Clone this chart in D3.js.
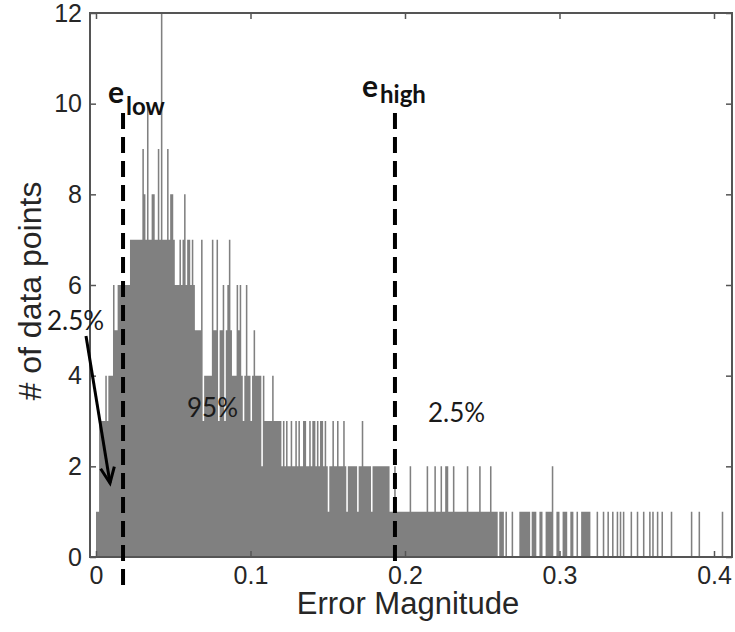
<!DOCTYPE html>
<html>
<head>
<meta charset="utf-8">
<script src="https://cdn.jsdelivr.net/npm/d3@7"></script>
<style>
  html, body { margin: 0; padding: 0; background: #fff; }
  svg { display: block; }
</style>
</head>
<body>
<div id="chart"></div>
<script>
// ---------------- DATA ----------------
// Histogram of error magnitudes: bin width 0.001, first bin starts at 0
const binWidth = 0.001;
const binCounts = [
  1,1,3,3,3,3,4,3,4,4,4,6,5,5,6,6,6,6,6,6,
  6,6,7,7,7,7,7,7,7,7,9,8,7,10,7,7,8,8,7,7,
  9,7,12,7,7,7,9,7,8,8,7,6,6,6,7,6,7,8,6,7,
  7,6,7,6,5,5,5,5,7,3,4,4,4,4,4,7,5,5,7,3,
  5,5,6,3,5,6,7,5,4,4,4,6,5,6,4,3,4,6,4,4,
  3,4,5,4,4,4,4,2,4,3,3,3,3,3,4,3,3,3,3,3,
  2,3,2,3,2,2,3,2,2,3,2,3,2,2,3,3,2,2,3,2,
  3,3,2,3,2,3,3,2,3,2,1,2,2,3,2,2,3,2,2,2,
  3,2,1,2,2,2,2,2,2,1,2,2,3,2,2,2,2,2,1,2,
  2,2,2,2,2,2,2,2,2,2,1,1,1,2,1,1,1,1,1,1,
  1,1,1,2,1,1,1,1,1,1,1,1,1,1,2,1,1,1,1,2,
  1,1,1,2,1,1,2,2,1,1,1,2,1,1,1,1,1,1,1,1,
  2,1,1,1,1,1,1,1,2,1,1,1,1,1,1,2,1,1,1,1,
  0,1,1,1,0,1,0,0,0,1,0,0,0,0,1,1,1,1,1,1,
  1,0,1,1,1,0,0,1,1,0,0,1,1,1,1,2,0,0,1,1,
  0,0,1,1,1,0,0,1,1,0,0,1,0,0,1,1,1,1,1,1,
  0,0,0,0,1,0,0,0,1,0,0,1,0,0,1,0,0,1,0,1,
  0,1,0,0,0,0,1,0,0,0,1,0,0,0,1,0,0,0,1,0,
  1,0,0,1,0,0,1,0,0,0,0,0,1,0,0,0,0,0,0,0,
  0,0,0,0,0,1,0,0,0,0,1,0,0,0,0,0,0,0,0,0,
  0,0,0,0,0,1,0,0,0,0,0,0
];
const xTicks = [0, 0.1, 0.2, 0.3, 0.4];
const xTickLabels = ["0", "0.1", "0.2", "0.3", "0.4"];
const yTicks = [0, 2, 4, 6, 8, 10, 12];
const thresholdNames = ["low", "high"];
const thresholdValues = [0.0175, 0.1935];
const regionLabels = ["2.5%", "95%", "2.5%"];
const xTitle = "Error Magnitude";
const yTitle = "# of data points";

// ---------------- LAYOUT ----------------
const W = 735, H = 632;
const L = 90, R = 732, T = 13, B = 557;

const svg = d3.select("#chart").append("svg")
  .attr("width", W).attr("height", H);

const x = d3.scaleLinear().domain([-0.00388, 0.41165]).range([L, R]);
const y = d3.scaleLinear().domain([0, 12]).range([B, T]);

const bins = binCounts.map((c, i) => ({x0: i * binWidth, x1: (i + 1) * binWidth, count: c}));
// step outline: each bin's left edge, plus the closing right edge of the last bin
const stepPts = bins.map(d => ({xv: d.x0, c: d.count}))
  .concat([{xv: bins[bins.length - 1].x1, c: 0}]);

// histogram drawn as one stepped area (no seams between neighbouring bins)
const area = d3.area()
  .curve(d3.curveStepAfter)
  .x(d => x(d.xv))
  .y0(y(0))
  .y1(d => y(d.c));
svg.append("path")
  .datum(stepPts)
  .attr("d", area)
  .attr("fill", "#808080");

// axes
const axisColor = "#555";
const tickFont = "'Liberation Sans', Arial, sans-serif";

const gx = svg.append("g").attr("transform", `translate(0,${B})`)
  .call(d3.axisBottom(x).tickValues(xTicks).tickFormat((d, i) => xTickLabels[i])
    .tickSize(-6).tickPadding(9));
const gy = svg.append("g").attr("transform", `translate(${L},0)`)
  .call(d3.axisLeft(y).tickValues(yTicks).tickFormat(d3.format("d"))
    .tickSize(-6).tickPadding(8));
const gxTop = svg.append("g").attr("transform", `translate(0,${T})`)
  .call(d3.axisTop(x).tickValues(xTicks).tickFormat("").tickSize(-6));
const gyRight = svg.append("g").attr("transform", `translate(${R},0)`)
  .call(d3.axisRight(y).tickValues(yTicks).tickFormat("").tickSize(-6));

[gx, gy, gxTop, gyRight].forEach(g => {
  g.select(".domain").remove();
  g.selectAll(".tick line").attr("stroke", axisColor).attr("stroke-width", 1.5);
  g.selectAll(".tick text").attr("fill", "#262626")
    .style("font-family", tickFont).style("font-size", "25px");
});

// frame
svg.append("rect")
  .attr("x", L).attr("y", T).attr("width", R - L).attr("height", B - T)
  .attr("fill", "none").attr("stroke", axisColor).attr("stroke-width", 2);

// axis titles
svg.append("text")
  .attr("x", 408).attr("y", 614)
  .attr("text-anchor", "middle")
  .style("font-family", tickFont).style("font-size", "31px")
  .attr("fill", "#262626")
  .text(xTitle);
svg.append("text")
  .attr("transform", "translate(41,291) rotate(-90)")
  .attr("text-anchor", "middle")
  .style("font-family", tickFont).style("font-size", "32px")
  .attr("fill", "#262626")
  .text(yTitle);

// threshold dashed lines
const lineBottoms = [590, 567];
const lineTops = [113, 113];
thresholdValues.forEach((v, i) => {
  svg.append("line")
    .attr("x1", x(v)).attr("x2", x(v))
    .attr("y1", lineTops[i]).attr("y2", lineBottoms[i])
    .attr("stroke", "#000").attr("stroke-width", 4)
    .attr("stroke-dasharray", "16,8");
});

// threshold labels e_low / e_high
const labFont = "Lato, 'Open Sans', sans-serif";
const eBase = [103, 97];
const subBase = [115, 103];
const eX = [108, 362];
thresholdNames.forEach((n, i) => {
  svg.append("text").attr("x", eX[i]).attr("y", eBase[i])
    .style("font-family", labFont).style("font-weight", "bold").style("font-size", "30px")
    .attr("fill", "#111").text("e");
  svg.append("text").attr("x", eX[i] + 18).attr("y", subBase[i])
    .style("font-family", labFont).style("font-weight", "bold").style("font-size", "24px")
    .attr("fill", "#111").text(n);
});

// region percentage labels
const regionPos = [[47, 330], [187, 417], [428, 422]];
regionLabels.forEach((t, i) => {
  svg.append("text").attr("x", regionPos[i][0]).attr("y", regionPos[i][1])
    .style("font-family", labFont).style("font-size", "26px")
    .attr("fill", "#1a1a1a").text(t);
});

// arrow from left 2.5% label into first bins
const a0 = [86, 336], a1 = [110, 483];
svg.append("line")
  .attr("x1", a0[0]).attr("y1", a0[1]).attr("x2", a1[0]).attr("y2", a1[1])
  .attr("stroke", "#000").attr("stroke-width", 3);
const ang = Math.atan2(a1[1] - a0[1], a1[0] - a0[0]);
const hl = 17, hw = 0.42;
const p1 = [a1[0] - hl * Math.cos(ang - hw), a1[1] - hl * Math.sin(ang - hw)];
const p2 = [a1[0] - hl * Math.cos(ang + hw), a1[1] - hl * Math.sin(ang + hw)];
svg.append("path")
  .attr("d", `M${p1[0]},${p1[1]}L${a1[0]},${a1[1]}L${p2[0]},${p2[1]}`)
  .attr("fill", "none").attr("stroke", "#000").attr("stroke-width", 3)
  .attr("stroke-linejoin", "miter");
</script>
</body>
</html>
